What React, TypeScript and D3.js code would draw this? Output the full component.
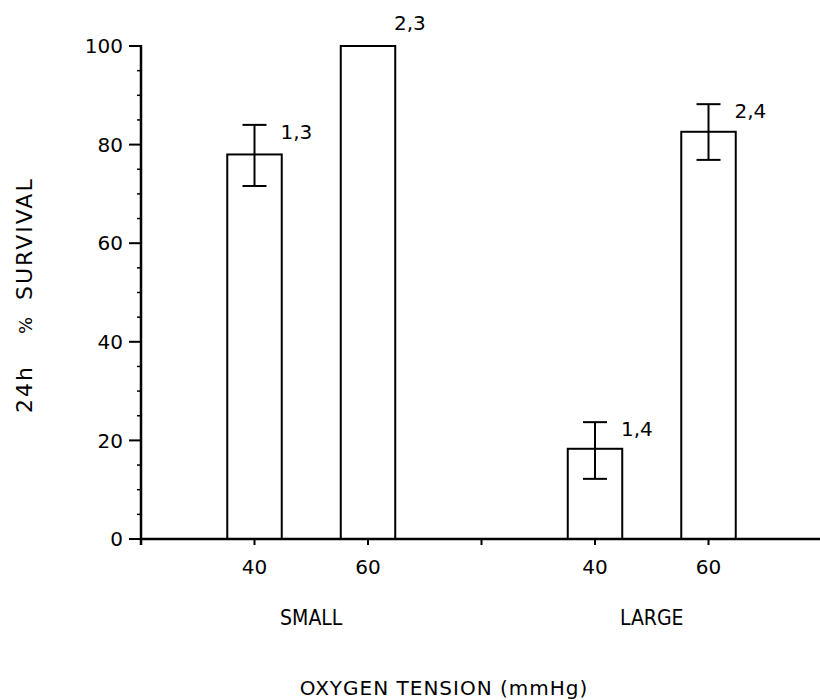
import React from 'react'
import * as d3 from 'd3'

// Data
const groups = ['SMALL', 'LARGE']
const tensions = ['40', '60']
const survival = [78, 100, 18.3, 82.6] // small-40, small-60, large-40, large-60
const errHigh = [84, null, 23.7, 88.2]
const errLow = [71.6, null, 12.2, 76.9]
const notes = ['1,3', '2,3', '1,4', '2,4']
const yTicks = [0, 20, 40, 60, 80, 100]

const width = 820
const height = 700
const margin = { left: 141, right: 0, top: 46, bottom: 161 }
const font = 'DejaVu Sans, sans-serif'

const App = () => {
  const x = d3.scaleLinear().domain([0, 6]).range([margin.left, width + 2])
  const y = d3.scaleLinear().domain([0, 100]).range([height - margin.bottom, margin.top])
  const slot = x(1) - x(0)
  const barW = slot * 0.48

  // bar position: 1,2 for small; 4,5 for large
  const bars = survival.map((v, i) => {
    const g = Math.floor(i / tensions.length)
    const t = i % tensions.length
    return { pos: g * 3 + t + 1, v, hi: errHigh[i], lo: errLow[i], note: notes[i], tension: tensions[t] }
  })

  const minor = d3.range(0, 101, 5).filter(d => d % 20 !== 0)
  const y0 = y(0)

  return (
    <svg width={width} height={height} style={{ position: 'absolute', left: 0, top: 0, background: '#fff' }}>
      {/* bars */}
      {bars.map((b, i) => (
        <rect key={'b' + i} x={x(b.pos) - barW / 2} y={y(b.v)} width={barW} height={y0 - y(b.v)}
          fill="#fff" stroke="#000" strokeWidth={2} />
      ))}
      {/* error bars */}
      {bars.filter(b => b.hi != null).map((b, i) => (
        <g key={'e' + i} stroke="#000" strokeWidth={2}>
          <line x1={x(b.pos)} x2={x(b.pos)} y1={y(b.hi)} y2={y(b.lo)} />
          <line x1={x(b.pos) - 12} x2={x(b.pos) + 12} y1={y(b.hi)} y2={y(b.hi)} />
          <line x1={x(b.pos) - 12} x2={x(b.pos) + 12} y1={y(b.lo)} y2={y(b.lo)} />
        </g>
      ))}
      {/* significance notes */}
      {bars.map((b, i) => (
        <text key={'n' + i} x={x(b.pos) + 26} y={b.hi != null ? y(b.hi) + 14 : y(b.v) - 16}
          fontFamily={font} fontSize={20}>{b.note}</text>
      ))}

      {/* y axis */}
      <line x1={margin.left} x2={margin.left} y1={y(100) - 1} y2={y0 + 6} stroke="#000" strokeWidth={2.5} />
      {yTicks.map(t => (
        <g key={'yt' + t}>
          <line x1={margin.left - 12} x2={margin.left} y1={y(t)} y2={y(t)} stroke="#000" strokeWidth={2} />
          <text x={margin.left - 18} y={y(t)} dy="0.36em" textAnchor="end" fontFamily={font} fontSize={20}>{t}</text>
        </g>
      ))}
      {minor.map(t => (
        <line key={'ym' + t} x1={margin.left - 4} x2={margin.left + 1} y1={y(t)} y2={y(t)} stroke="#000" strokeWidth={1.5} />
      ))}

      {/* x axis */}
      <line x1={margin.left} x2={width} y1={y0} y2={y0} stroke="#000" strokeWidth={2.5} />
      {d3.range(1, 6).map(p => (
        <line key={'xt' + p} x1={x(p)} x2={x(p)} y1={y0} y2={y0 + 6} stroke="#000" strokeWidth={2} />
      ))}
      {bars.map((b, i) => (
        <text key={'xl' + i} x={x(b.pos)} y={y0 + 35} textAnchor="middle" fontFamily={font} fontSize={20}>{b.tension}</text>
      ))}
      {groups.map((g, i) => (
        <text key={'g' + i} x={x(i * 3 + 1.5)} y={y0 + 86} textAnchor="middle" fontFamily={font}
          fontSize={21} style={{ fontStretch: 'condensed' }}>{g}</text>
      ))}

      {/* axis titles */}
      <text x={444} y={height - 5} textAnchor="middle" fontFamily={font} fontSize={20} letterSpacing={1}>
        OXYGEN TENSION (mmHg)
      </text>
      <g transform="translate(32,0)" fontFamily={font} fontSize={22} letterSpacing={2}>
        <text transform="translate(0,413) rotate(-90)">24h</text>
        <text transform="translate(0,334) rotate(-90)" fontSize={18}>%</text>
        <text transform="translate(0,300) rotate(-90)">SURVIVAL</text>
      </g>
    </svg>
  )
}

export default App
